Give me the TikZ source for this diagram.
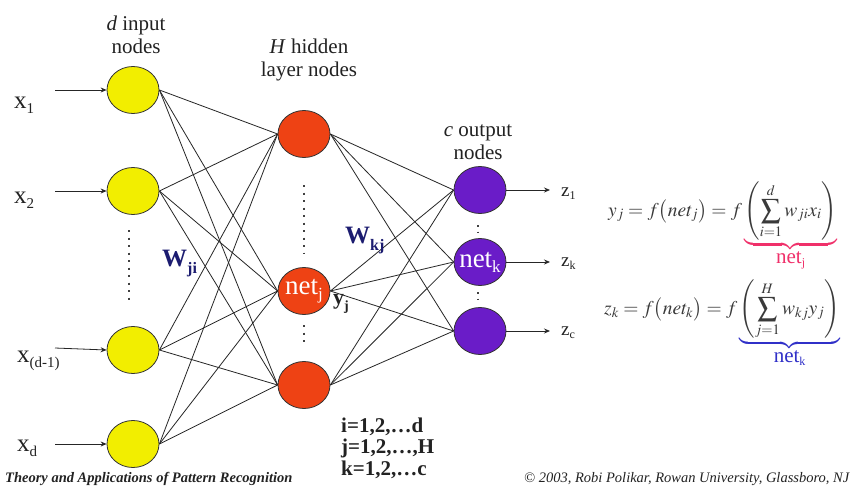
\documentclass[tikz,border=0pt]{standalone}
\usepackage{mathptmx}
\usepackage{fontspec}
\setmainfont{Liberation Serif}
\usetikzlibrary{shapes.geometric,arrows.meta}
\definecolor{inyel}{HTML}{F2EE00}
\definecolor{hidred}{HTML}{EE4214}
\definecolor{outpur}{HTML}{6A1CC8}
\definecolor{wblue}{HTML}{1C1C70}
\definecolor{eqc}{HTML}{3A3A3A}
\definecolor{pinkc}{HTML}{F0306A}
\definecolor{bluec}{HTML}{3030C8}
\definecolor{txt}{HTML}{222222}
\tikzset{
  neuron/.style={ellipse,draw=black!80,line width=0.8pt,minimum width=52pt,minimum height=47pt,inner sep=0pt},
  inn/.style={neuron,fill=inyel},
  hid/.style={neuron,fill=hidred},
  outn/.style={neuron,fill=outpur},
  conn/.style={draw=black!85,line width=0.8pt},
  arr/.style={draw=black!85,line width=0.8pt,-{Stealth[length=6pt,width=5pt]}},
  head/.style={font=\fontsize{21}{23}\selectfont,text=txt,align=center},
  xlab/.style={font=\fontsize{25}{25}\selectfont,text=txt,anchor=base west,inner sep=0pt},
  zlab/.style={font=\fontsize{19}{19}\selectfont,text=txt,anchor=base west,inner sep=0pt},
  dotv/.style={line width=2pt,dash pattern=on 2pt off 5.5pt,draw=black!75},
  wlab/.style={font=\fontsize{25}{25}\selectfont\bfseries,text=wblue,anchor=base west,inner sep=0pt},
  idx/.style={font=\fontsize{21}{23}\selectfont\bfseries,text=txt,anchor=base west,inner sep=0pt},
  eq/.style={font=\fontsize{19.5}{23}\selectfont,text=eqc,anchor=base west,inner sep=0pt},
  foot/.style={text=txt,anchor=base west,inner sep=0pt},
  nettxt/.style={font=\fontsize{27}{27}\selectfont,text=white}
}
\newcommand{\subl}[2]{#1\raisebox{-5pt}{\fontsize{15}{15}\selectfont #2}}
\begin{document}
\begin{tikzpicture}[x=1pt,y=-1pt]
\useasboundingbox[fill=white] (0,0) rectangle (857,485);
% headers
\node[head] (hin) at (136,35) {\textit{d} input\\nodes};
\node[head] (hhid) at (309,60) {\textit{H} hidden\\layer nodes};
\node[head] (hout) at (478,142) {\textit{c} output\\nodes};
% input nodes
\node[inn] (i1) at (133,90) {};
\node[inn] (i2) at (133,191) {};
\node[inn] (i3) at (133,350) {};
\node[inn] (i4) at (133,444) {};
% hidden nodes
\node[hid] (h1) at (304,134) {};
\node[hid,label={[nettxt]center:net\raisebox{-5pt}{\fontsize{17}{17}\selectfont j}}] (h2) at (304,291) {};
\node[hid] (h3) at (304,385) {};
% output nodes
\node[outn] (o1) at (480,190) {};
\node[outn,label={[nettxt]center:net\raisebox{-5pt}{\fontsize{17}{17}\selectfont k}}] (o2) at (480,262) {};
\node[outn] (o3) at (480,331) {};
% connections
\foreach \a in {i1,i2,i3,i4}{\foreach \b in {h1,h2,h3}{\draw[conn] (\a.east) -- (\b.west);}}
\foreach \a in {h1,h2,h3}{\foreach \b in {o1,o2,o3}{\draw[conn] (\a.east) -- (\b.west);}}
% input labels and arrows
\coordinate (a1) at (55,90);
\coordinate (a2) at (55,191);
\coordinate (a3) at (55,348);
\coordinate (a4) at (55,444);
\draw[arr] (a1) -- (i1.west);
\draw[arr] (a2) -- (i2.west);
\draw[arr] (a3) -- (i3.west);
\draw[arr] (a4) -- (i4.west);
\node[xlab] (x1) at (14,108) {\subl{x}{1}};
\node[xlab] (x2) at (14,203) {\subl{x}{2}};
\node[xlab] (x3) at (17,362) {\subl{x}{(d-1)}};
\node[xlab] (x4) at (17,451) {\subl{x}{d}};
% output arrows and labels
\coordinate (b1) at (550,190);
\coordinate (b2) at (550,262);
\coordinate (b3) at (550,331);
\draw[arr] (o1.east) -- (b1);
\draw[arr] (o2.east) -- (b2);
\draw[arr] (o3.east) -- (b3);
\node[zlab] (z1) at (561,196) {z\raisebox{-3pt}{\fontsize{12}{12}\selectfont 1}};
\node[zlab] (z2) at (561,266) {z\raisebox{-3pt}{\fontsize{12}{12}\selectfont k}};
\node[zlab] (z3) at (561,335) {z\raisebox{-3pt}{\fontsize{12}{12}\selectfont c}};
% dotted
\coordinate (d1a) at (129,230); \coordinate (d1b) at (129,304);
\draw[dotv] (d1a) -- (d1b);
\coordinate (d2a) at (304,185); \coordinate (d2b) at (304,254);
\draw[dotv] (d2a) -- (d2b);
\coordinate (d3a) at (304,325); \coordinate (d3b) at (304,346);
\draw[dotv] (d3a) -- (d3b);
\coordinate (d4a) at (478,225); \coordinate (d4b) at (478,234);
\draw[dotv,line width=1.6pt,dash pattern=on 1.6pt off 5pt] (d4a) -- (d4b);
\coordinate (d5a) at (478,292); \coordinate (d5b) at (478,301);
\draw[dotv,line width=1.6pt,dash pattern=on 1.6pt off 5pt] (d5a) -- (d5b);
% weight labels
\node[wlab] (wji) at (162,266) {W\raisebox{-7pt}{\fontsize{16}{16}\selectfont ji}};
\node[wlab] (wkj) at (345,243) {W\raisebox{-7pt}{\fontsize{16}{16}\selectfont kj}};
\node[font=\fontsize{22}{22}\selectfont\bfseries,text=txt,anchor=base west,inner sep=0pt] (yj) at (333,304) {y\raisebox{-6pt}{\fontsize{14}{14}\selectfont j}};
% index list
\node[idx] (idx1) at (341,432) {i=1,2,\ldots d};
\node[idx] (idx2) at (341,453) {j=1,2,\ldots,H};
\node[idx] (idx3) at (341,475) {k=1,2,\ldots c};
% equations
\node[eq] (eq1) at (608,216) {$\displaystyle y_j = f\bigl(net_j\bigr) = f\color{pinkc}\underbrace{\color{eqc}\left(\sum_{i=1}^{d} w_{ji}x_i\right)}_{\mbox{\fontsize{21}{21}\selectfont\color{pinkc}net\raisebox{-3pt}{\fontsize{12}{12}\selectfont j}}}$};
\node[eq] (eq2) at (604,314) {$\displaystyle z_k = f\bigl(net_k\bigr) = f\color{bluec}\underbrace{\color{eqc}\left(\sum_{j=1}^{H} w_{kj}y_j\right)}_{\mbox{\fontsize{21}{21}\selectfont\color{bluec}net\raisebox{-3pt}{\fontsize{12}{12}\selectfont k}}}$};
% footers
\node[foot,font=\fontsize{14.5}{15}\selectfont\bfseries\itshape] (f1) at (5,482) {Theory and Applications of Pattern Recognition};
\node[foot,font=\fontsize{14.5}{15}\selectfont\itshape] (f2) at (524,482) {© 2003, Robi Polikar, Rowan University, Glassboro, NJ};
\end{tikzpicture}
\end{document}
